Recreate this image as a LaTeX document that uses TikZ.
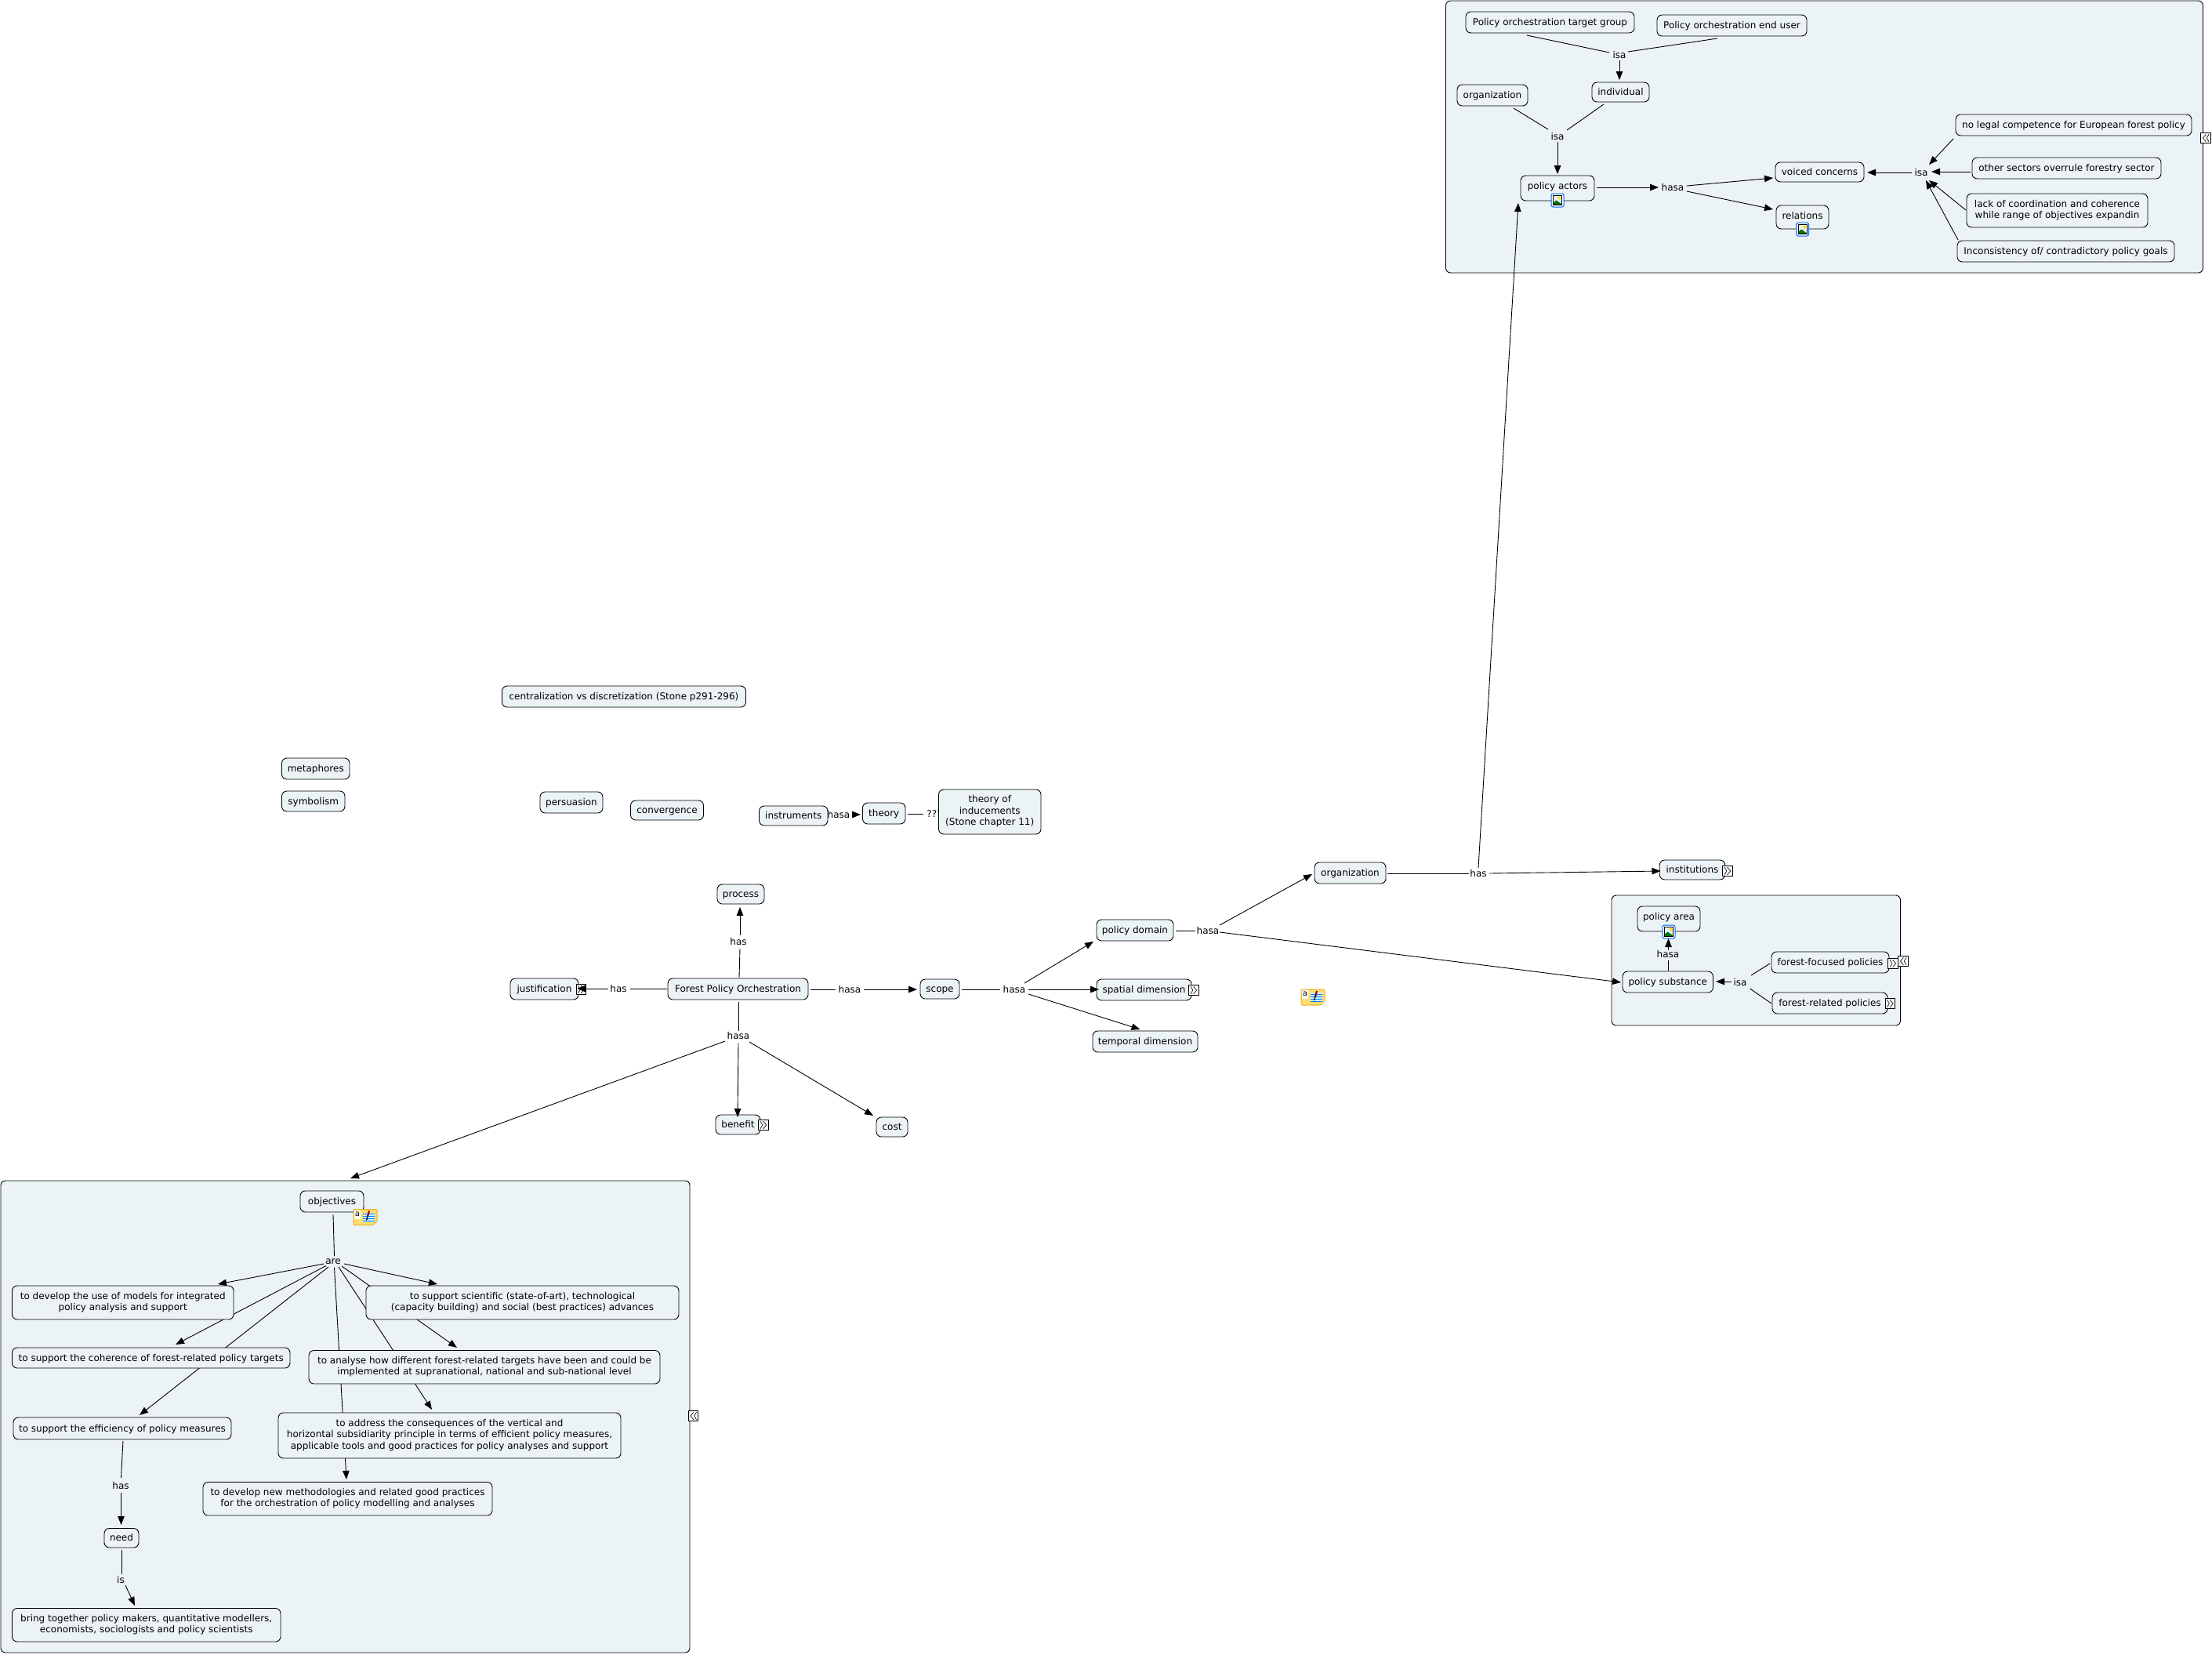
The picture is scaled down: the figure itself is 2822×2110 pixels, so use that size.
\documentclass[tikz,border=0pt]{standalone}
\usepackage{fontspec}
\setmainfont{DejaVu Sans}
\usetikzlibrary{arrows.meta}
\pgfdeclarelayer{grp}
\pgfdeclarelayer{ln}
\pgfsetlayers{grp,ln,main}
\definecolor{cmfill}{HTML}{ECF3F6}
\definecolor{notey}{HTML}{FFDD6E}
\definecolor{noteb}{HTML}{E8AE28}
\newcommand\tstr{\vrule height 11.4pt depth 3.4pt width 0pt\relax}
\tikzset{
  x=1pt,y=-1pt,
  every node/.style={font=\fontsize{12}{14.6}\selectfont,text=black},
  wh/.style 2 args={minimum width=#1pt,minimum height=#2pt},
  box/.style={draw=black,fill=cmfill,rounded corners=6.5pt,line width=.9pt,inner sep=0pt,align=center,
    execute at begin node=\tstr,execute at end node=\tstr},
  grpbox/.style={draw=black,fill=cmfill,rounded corners=6pt,line width=.9pt,inner sep=0pt},
  lab/.style={inner sep=0pt,execute at begin node=\tstr},
  ln/.style={draw=black,line width=.9pt},
  ar/.style={draw=black,line width=.9pt,-{Triangle[length=11pt,width=8.5pt]}},
  pics/expr/.style={code={
    \draw[black,line width=.9pt,fill=white] (-6.2,-6.2) rectangle (6.2,6.2);
    \draw[black,line width=.65pt] (-4,-4.8)--(-1.2,0)--(-4,4.8) (-.4,-4.8)--(3.6,0)--(-.4,4.8);}},
  pics/expl/.style={code={
    \draw[black,line width=.9pt,fill=white] (-6.2,-6.2) rectangle (6.2,6.2);
    \draw[black,line width=.65pt] (4,-4.8)--(1.2,0)--(4,4.8) (.4,-4.8)--(-3.6,0)--(.4,4.8);}},
  pics/imgicon/.style={code={
    \draw[draw=blue!60!cyan,fill=white,line width=1pt,rounded corners=2.5pt] (-8,-8.5) rectangle (8,8.5);
    \fill[cyan!12] (-5.5,-6) rectangle (5.5,6);
    \fill[green!45!black] (-5.5,6) -- (-5.5,3.5) -- (-1.5,0) -- (5.5,5) -- (5.5,6) -- cycle;
    \fill[yellow!80!orange] (2.5,-3) circle (2);
    \draw[black,line width=1pt] (-5.5,-6) rectangle (5.5,6);}},
  pics/noteicon/.style={code={
    \draw[draw=noteb,fill=notey,line width=1pt,rounded corners=1pt] (-15,-10) -- (15,-10) -- (15,5) -- (10,10) -- (-15,10) -- cycle;
    \fill[cyan!20] (-3,-6) rectangle (12,6);
    \foreach \yy in {-4,-1,2,5} {\draw[blue!50!cyan,line width=.6pt] (-3,\yy) -- (12,\yy);}
    \draw[red!60!black,line width=2.2pt] (3,-1) -- (5,-8);
    \draw[black,line width=1.2pt] (1.5,4) -- (3,-1);
    \fill[white] (-14,-9) rectangle (-6,2);
    \node[inner sep=0pt,font=\fontsize{10}{10}\selectfont,text=black] at (-10,-4) {a};}},
}
\begin{document}
\begin{tikzpicture}
\useasboundingbox (0,0) rectangle (2822,2110);
\begin{pgfonlayer}{grp}
\fill[white] (0,0) rectangle (2822,2110);
\node[grpbox,wh={966}{347}] (gpol) at (2327.5,174.5) {};
\node[grpbox,wh={879}{602}] (gobj) at (440.5,1807) {};
\node[grpbox,wh={368.5}{166}] (gsub) at (2240.25,1225) {};
\end{pgfonlayer}

% top group
\node[box,wh={215}{27}] (tg) at (1977.5,28.5) {Policy orchestration target group};
\node[box,wh={191}{27}] (eu) at (2209.5,32.5) {Policy orchestration end user};
\node[box,wh={73}{25}] (ind) at (2067.5,117.5) {individual};
\node[box,wh={90}{27}] (orgb) at (1904,121.5) {organization};
\node[box,wh={94}{32}] (pa) at (1987,240) {\raisebox{3pt}{policy actors}};
\node[box,wh={113}{25}] (vc) at (2321.5,219.5) {voiced concerns};
\node[box,wh={67}{30}] (rel) at (2299.5,277) {\raisebox{2pt}{relations}};
\node[box,wh={301}{27}] (nolegal) at (2645.5,159.5) {no legal competence for European forest policy};
\node[box,wh={241}{27}] (other) at (2636.5,214.5) {other sectors overrule forestry sector};
\node[box,wh={231}{43}] (lack) at (2624.5,268.5) {lack of coordination and coherence\\while range of objectives expandin};
\node[box,wh={277}{27}] (incons) at (2635.5,320.5) {Inconsistency of/ contradictory policy goals};
\node[lab] (isaa) at (2066,70) {isa};
\node[lab] (isab) at (1987,174) {isa};
\node[lab] (hasaa) at (2134,239) {hasa};
\node[lab] (isac) at (2451,220) {isa};
\pic at (1987,255.5) {imgicon};
\pic at (2299.6,292.5) {imgicon};
\pic at (2814,176) {expl};

% central
\node[box,wh={179}{27}] (fpo) at (941.5,1261.5) {Forest Policy Orchestration};
\node[box,wh={60}{25}] (proc) at (945,1140.5) {process};
\node[box,wh={87}{27}] (just) at (694.5,1261.5) {justification};
\node[box,wh={50}{25}] (scope) at (1199,1261.5) {scope};
\node[box,wh={98}{27}] (pdom) at (1448,1186.5) {policy domain};
\node[box,wh={121}{27}] (spat) at (1459.5,1262.5) {spatial dimension};
\node[box,wh={134}{27}] (temp) at (1461,1328.5) {temporal dimension};
\node[box,wh={57}{25}] (ben) at (941.5,1434.5) {benefit};
\node[box,wh={40}{25}] (cost) at (1138,1437.5) {cost};
\node[box,wh={91}{27}] (orga) at (1722.5,1113.5) {organization};
\node[box,wh={83.5}{25}] (inst) at (2159,1109.5) {institutions};
\node[lab] (hasp) at (942,1201) {has};
\node[lab] (hasj) at (789,1261) {has};
\node[lab] (hasas) at (1084,1262) {hasa};
\node[lab] (hasad) at (1294,1262) {hasa};
\node[lab] (hasao) at (1541,1187) {hasa};
\node[lab] (hasab) at (942,1321) {hasa};
\node[lab] (haso) at (1886,1114) {has};
\pic at (741.5,1262) {expr};
\pic at (1523,1263) {expr};
\pic at (974,1435) {expr};
\pic at (2204,1111) {expr};
\pic at (1675,1272) {noteicon};

% policy substance group
\node[box,wh={80}{32}] (parea) at (2129,1172) {\raisebox{3pt}{policy area}};
\node[box,wh={115.5}{27}] (subst) at (2127.75,1252.5) {policy substance};
\node[box,wh={150}{27}] (ffoc) at (2335,1227.5) {forest-focused policies};
\node[box,wh={147}{27}] (frel) at (2334.5,1279.5) {forest-related policies};
\node[lab] (hasaa2) at (2128,1217) {hasa};
\node[lab] (isas) at (2220,1253) {isa};
\pic at (2129,1188.5) {imgicon};
\pic at (2415,1229) {expr};
\pic at (2428,1226) {expl};
\pic at (2411.5,1280) {expr};

% objectives group
\node[box,wh={81}{27}] (obj) at (423.5,1532.5) {objectives};
\node[box,wh={282.5}{43}] (dev) at (156.75,1661.5) {to develop the use of models for integrated\\policy analysis and support};
\node[box,wh={399}{43}] (sci) at (666.5,1661.5) {to support scientific (state-of-art), technological\\(capacity building) and social (best practices) advances};
\node[box,wh={354.5}{26}] (coh) at (192.75,1732) {to support the coherence of forest-related policy targets};
\node[box,wh={448}{42.5}] (ana) at (618,1743.75) {to analyse how different forest-related targets have been and could be\\implemented at supranational, national and sub-national level};
\node[box,wh={278}{28}] (eff) at (156,1822) {to support the efficiency of policy measures};
\node[box,wh={437}{58}] (addr) at (573.5,1831) {to address the consequences of the vertical and\\horizontal subsidiarity principle in terms of efficient policy measures,\\applicable tools and good practices for policy analyses and support};
\node[box,wh={369}{42.5}] (meth) at (443.5,1911.75) {to develop new methodologies and related good practices\\for the orchestration of policy modelling and analyses};
\node[box,wh={44}{24.5}] (need) at (155,1961.75) {need};
\node[box,wh={342.5}{42.5}] (bring) at (186.75,2072.75) {bring together policy makers, quantitative modellers,\\economists, sociologists and policy scientists};
\node[lab] (are) at (425,1608) {are};
\node[lab] (hasn) at (154,1895) {has};
\node[lab] (isb) at (154,2015) {is};
\pic at (466,1552.5) {noteicon};
\pic at (884.5,1806) {expl};

% loose nodes
\node[box,wh={311}{27}] (cent) at (796,888.5) {centralization vs discretization (Stone p291-296)};
\node[box,wh={86.5}{27}] (meta) at (402.75,980.5) {metaphores};
\node[box,wh={80.5}{26}] (symb) at (399.75,1022) {symbolism};
\node[box,wh={80}{27}] (pers) at (729,1023.5) {persuasion};
\node[box,wh={93}{25}] (conv) at (851,1033.5) {convergence};
\node[lab] (qq) at (1192,1038) {???};
\node[box,wh={87.5}{25}] (instr) at (1012.25,1040.5) {instruments};
\node[lab] (hasat) at (1070,1039) {hasa};
\node[box,wh={54.5}{27}] (theory) at (1127.75,1037.5) {theory};
\node[box,wh={130.5}{57}] (induce) at (1262.75,1035.5) {theory of\\inducements\\(Stone chapter 11)};

% connectors top group
\draw[ln] ([shift={(-29.5,16.5)}]tg.center) -- ([shift={(-13,-3)}]isaa.center);
\draw[ln] ([shift={(-18.5,16.5)}]eu.center) -- ([shift={(11,-4)}]isaa.center);
\draw[ar] ([shift={(0,7)}]isaa.center) -- ([shift={(-1.5,-15.5)}]ind.center);
\draw[ln] ([shift={(27,16.5)}]orgb.center) -- ([shift={(-12,-9)}]isab.center);
\draw[ln] ([shift={(-21.5,15.5)}]ind.center) -- ([shift={(12,-8)}]isab.center);
\draw[ar] ([shift={(0,7)}]isab.center) -- ([shift={(0,-18)}]pa.center);
\draw[ar] ([shift={(50,-1)}]pa.center) -- ([shift={(-18,0)}]hasaa.center);
\draw[ar] ([shift={(18,-2)}]hasaa.center) -- ([shift={(-59.5,7.5)}]vc.center);
\draw[ar] ([shift={(18,5)}]hasaa.center) -- ([shift={(-37.5,-10)}]rel.center);
\draw[ar] ([shift={(-12,0)}]isac.center) -- ([shift={(60.5,0.5)}]vc.center);
\draw[ar] ([shift={(-153.5,17.5)}]nolegal.center) -- ([shift={(10,-10)}]isac.center);
\draw[ar] ([shift={(-122.5,4.5)}]other.center) -- ([shift={(13,-1)}]isac.center);
\draw[ar] ([shift={(-116.5,-.5)}]lack.center) -- ([shift={(10,10)}]isac.center);
\draw[ar] ([shift={(-137.5,-14.5)}]incons.center) -- ([shift={(6,10)}]isac.center);

% connectors central
\draw[ln] ([shift={(1.5,-14.5)}]fpo.center) -- ([shift={(2,9)}]hasp.center);
\draw[ar] ([shift={(2,-8)}]hasp.center) -- ([shift={(-1,16.5)}]proc.center);
\draw[ln] ([shift={(-90.5,-.5)}]fpo.center) -- ([shift={(15,0)}]hasj.center);
\draw[ar] ([shift={(-13,0)}]hasj.center) -- ([shift={(41.5,-.5)}]just.center);
\draw[ln] ([shift={(92.5,.5)}]fpo.center) -- ([shift={(-18,0)}]hasas.center);
\draw[ar] ([shift={(18,0)}]hasas.center) -- ([shift={(-29,.5)}]scope.center);
\draw[ln] ([shift={(28,.5)}]scope.center) -- ([shift={(-18,0)}]hasad.center);
\draw[ar] ([shift={(13,-8)}]hasad.center) -- ([shift={(-53,14.5)}]pdom.center);
\draw[ar] ([shift={(18,0)}]hasad.center) -- ([shift={(-57.5,-.5)}]spat.center);
\draw[ar] ([shift={(18,6)}]hasad.center) -- ([shift={(-6.5,-15.5)}]temp.center);
\draw[ln] ([shift={(.5,16.5)}]fpo.center) -- ([shift={(0,-6)}]hasab.center);
\draw[ar] ([shift={(-17,7)}]hasab.center) -- ([shift={(6.5,-304)}]gobj.center);
\draw[ar] ([shift={(0,9)}]hasab.center) -- ([shift={(-.5,-9.5)}]ben.center);
\draw[ar] ([shift={(14,8)}]hasab.center) -- ([shift={(-24,-14.5)}]cost.center);
\draw[ln] ([shift={(52,.5)}]pdom.center) -- ([shift={(-16,0)}]hasao.center);
\draw[ar] ([shift={(15,-7)}]hasao.center) -- ([shift={(-48.5,1.5)}]orga.center);
\draw[ar] ([shift={(15,2)}]hasao.center) -- ([shift={(-59.75,.5)}]subst.center);
\draw[ln] ([shift={(47.5,.5)}]orga.center) -- ([shift={(-12,0)}]haso.center);
\draw[ar] ([shift={(14,0)}]haso.center) -- ([shift={(-40.5,1.5)}]inst.center);
\draw[ar] ([shift={(0,-7)}]haso.center) -- ([shift={(-50,19)}]pa.center);

% connectors policy substance
\draw[ln] ([shift={(.75,-14.5)}]subst.center) -- ([shift={(.5,8)}]hasaa2.center);
\draw[ar] ([shift={(.5,-5)}]hasaa2.center) -- ([shift={(-.5,25)}]parea.center);
\draw[ar] ([shift={(-11,-1)}]isas.center) -- ([shift={(61.25,-.5)}]subst.center);
\draw[ln] ([shift={(-77,1.5)}]ffoc.center) -- ([shift={(14,-9)}]isas.center);
\draw[ln] ([shift={(-74.5,.5)}]frel.center) -- ([shift={(12.5,8)}]isas.center);

% connectors objectives
\begin{pgfonlayer}{ln}
\draw[ln] ([shift={(1.5,16.5)}]obj.center) -- ([shift={(1.5,-6)}]are.center);
\draw[ar] ([shift={(-12,4)}]are.center) -- ([shift={(121.25,-23.5)}]dev.center);
\draw[ar] ([shift={(-9,6.5)}]are.center) -- ([shift={(31.25,-17)}]coh.center);
\draw[ar] ([shift={(-6,8)}]are.center) -- ([shift={(22,-17)}]eff.center);
\draw[ar] ([shift={(1.5,8.5)}]are.center) -- ([shift={(-1.5,-24.75)}]meth.center);
\draw[ar] ([shift={(7,8)}]are.center) -- ([shift={(-22.5,-33)}]addr.center);
\draw[ar] ([shift={(11,7)}]are.center) -- ([shift={(-35,-24.75)}]ana.center);
\draw[ar] ([shift={(14,4)}]are.center) -- ([shift={(-108.5,-23.5)}]sci.center);
\draw[ln] ([shift={(1,16)}]eff.center) -- ([shift={(.5,-10)}]hasn.center);
\draw[ar] ([shift={(.5,9)}]hasn.center) -- ([shift={(-.5,-16.75)}]need.center);
\draw[ln] ([shift={(0,15.25)}]need.center) -- ([shift={(1,-7)}]isb.center);
\draw[ar] ([shift={(6,7)}]isb.center) -- ([shift={(-14.75,-24.75)}]bring.center);
\end{pgfonlayer}

% connectors loose
\draw[ar] ([shift={(18,0)}]hasat.center) -- ([shift={(-29.75,1.5)}]theory.center);
\draw[ln] ([shift={(30.25,.5)}]theory.center) -- ([shift={(-14,0)}]qq.center);
\end{tikzpicture}
\end{document}
